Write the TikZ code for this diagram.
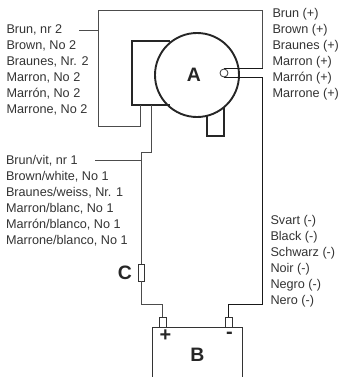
\documentclass[tikz,border=0pt]{standalone}
\usepackage{fontspec}
\setmainfont{Liberation Sans}
\tikzset{
  x=1bp,y=-1bp,
  thinw/.style={line width=0.9bp,draw=black!70,line join=miter},
  darkw/.style={line width=0.9bp,draw=black!90,line join=miter},
  thickw/.style={line width=1.9bp,draw=black!85,line join=miter},
  lab/.style={font=\fontsize{12.7}{14}\selectfont,text=black!80,anchor=base west,inner sep=0pt,outer sep=0pt},
  big/.style={font=\fontsize{19.5}{21}\selectfont\bfseries,text=black!85,inner sep=0pt},
  term/.style={draw=black!80,line width=0.9bp,fill=white,minimum width=7bp,minimum height=10bp,inner sep=0pt}
}
\begin{document}
\begin{tikzpicture}
\useasboundingbox (0,0) rectangle (342,377);
% motor
\draw[thickw] (170,41) -- (132,41) -- (132,105) -- (170,105);
\draw[thickw] (207,115) -- (207,136) -- (224,136) -- (224,108);
\node[circle,draw=black!85,line width=1.9bp,minimum size=84bp,inner sep=0pt] (motor) at (197,75) {};
\node[big] (A) at (194,75) {A};
% battery
\draw[line width=0.9bp,draw=black!80] (152,377) -- (152,327) -- (242,327) -- (242,377);
\node[term] (tp) at (162.5,322) {};
\node[term] (tm) at (228.5,322) {};
\node[big,font=\fontsize{20}{21}\selectfont\bfseries] (plus) at (165.5,335.5) {+};
\node[big,font=\fontsize{20}{21}\selectfont\bfseries] (minus) at (229.5,335) {-};
\node[big] (B) at (197.5,355) {B};
% fuse
\node[term,minimum width=6bp,minimum height=17bp] (fuse) at (141,272.5) {};
\node[big] (C) at (125,273) {C};
% coordinates
\coordinate (s1) at (79,30);
\coordinate (s2) at (95,160);
% wires
\draw[thinw] (s1) -- (98.5,30);
\draw[thinw] (262.5,68.5) -- (262.5,10.5) -- (98.5,10.5) -- (98.5,126) -- (140.5,126) -- (140.5,105);
\draw[thinw] (151.5,105) -- (151.5,152) -- (141,152) -- (fuse.north);
\draw[thinw] (s2) -- (141,160);
\draw[thinw] (fuse.south) -- (141,304.5) -- (162.5,304.5) -- (tp.north);
\draw[darkw] (224,68.5) -- (262.5,68.5);
\draw[darkw] (224,77) -- (262.5,77) -- (262.5,304.5) -- (228.5,304.5) -- (tm.north);
\node[circle,draw=black!80,line width=0.8bp,fill=white,minimum size=8bp,inner sep=0pt] (hole) at (224,73) {};
% labels
\foreach \t [count=\i from 0] in {{Brun, nr 2},{Brown, No 2},{Braunes, Nr. 2},{Marron, No 2},{Marrón, No 2},{Marrone, No 2}}
  \node[lab] (la\i) at (6.5,{33+16*\i}) {\t};
\foreach \t [count=\i from 0] in {{Brun/vit, nr 1},{Brown/white, No 1},{Braunes/weiss, Nr. 1},{Marron/blanc, No 1},{Marrón/blanco, No 1},{Marrone/blanco, No 1}}
  \node[lab] (lb\i) at (6,{164+16*\i}) {\t};
\foreach \t [count=\i from 0] in {{Brun (+)},{Brown (+)},{Braunes (+)},{Marron (+)},{Marrón (+)},{Marrone (+)}}
  \node[lab] (lc\i) at (272.5,{17+16*\i}) {\t};
\foreach \t [count=\i from 0] in {{Svart (-)},{Black (-)},{Schwarz (-)},{Noir (-)},{Negro (-)},{Nero (-)}}
  \node[lab] (ld\i) at (270.5,{224+16*\i}) {\t};
\end{tikzpicture}
\end{document}
